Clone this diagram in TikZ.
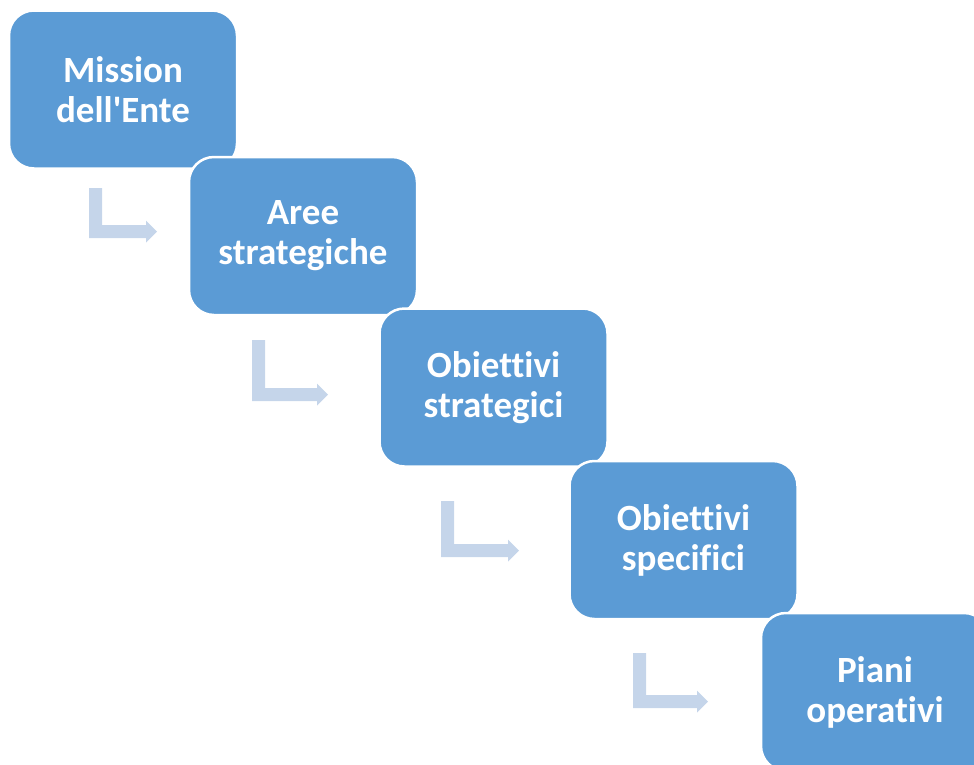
\documentclass[tikz,border=0pt]{standalone}
\usepackage{fontspec}
\newfontfamily\boxfont{Carlito}[Ligatures={NoCommon}]
\definecolor{boxblue}{HTML}{5B9BD5}
\definecolor{arrowblue}{RGB}{197,213,234}
\tikzset{
  stepbox/.style={draw=white, line width=2.5pt, fill=boxblue, rounded corners=25pt,
    minimum width=228pt, minimum height=158pt, inner sep=0pt, outer sep=0pt,
    align=center, text=white, font=\boxfont\fontsize{37pt}{40pt}\selectfont\bfseries},
  bentarrow/.style={fill=arrowblue, draw=none}
}
% #1 left x, #2 top y, #3 tip x, #4 bottom y
\newcommand{\bentarr}[4]{%
  \fill[bentarrow] (#1,#2) -- (#1+13,#2) -- (#1+13,#4-13) -- (#3-11,#4-13)
    -- (#3-11,#4-17.5) -- (#3,#4-6.5) -- (#3-11,#4+4.5) -- (#3-11,#4) -- (#1,#4) -- cycle;}
\begin{document}
\begin{tikzpicture}[x=1pt,y=-1pt]
\useasboundingbox (0,0) rectangle (974,764);
\begin{scope}
\clip (0,0) rectangle (974,764);
\bentarr{89}{188}{157}{238}
\bentarr{252}{340}{328}{401}
\bentarr{441}{501}{519}{557}
\bentarr{633}{653}{708}{708}
\node[stepbox] (b1) at (123,89.5) {Mission\\dell'Ente};
\node[stepbox] (b2) at (303,236) {Aree\\strategiche};
\node[stepbox] (b3) at (493.5,387.5) {Obiettivi\\strategici};
\node[stepbox] (b4) at (683.5,540) {Obiettivi\\specifici};
\node[stepbox] (b5) at (875,692) {Piani\\operativi};
\end{scope}
\end{tikzpicture}
\end{document}
